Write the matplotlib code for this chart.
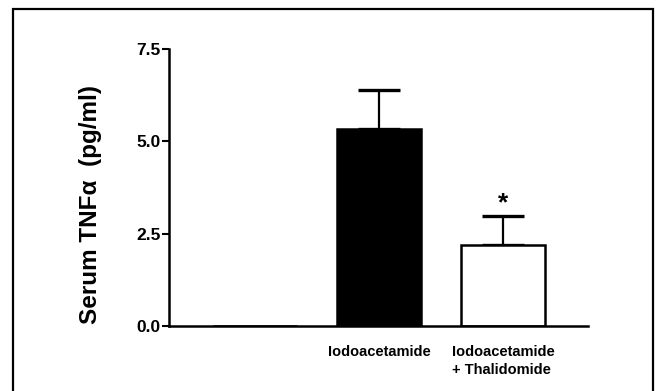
import matplotlib
matplotlib.use("Agg")
import matplotlib.pyplot as plt
from matplotlib.patches import Rectangle
import numpy as np

plt.rcParams['font.family'] = ['Liberation Sans', 'DejaVu Sans']
plt.rcParams['font.weight'] = 'bold'

# data
groups = ["", "Iodoacetamide", "Iodoacetamide\n+ Thalidomide"]
tnf_mean = [0.0, 5.33, 2.19]
tnf_sem = [0.0, 1.06, 0.79]
bar_colors = ["white", "black", "white"]
signif = ["", "", "*"]
yticks = [0.0, 2.5, 5.0, 7.5]

fig = plt.figure(figsize=(6.63, 3.91), dpi=100)
ax = fig.add_axes([0.2549, 0.1662, 0.632, 0.7085])

x = np.arange(len(groups))
ax.bar(x, tnf_mean, width=0.68, color=bar_colors, edgecolor="black", linewidth=1.8, zorder=2)

# upward-only error bars
for i in range(len(groups)):
    if tnf_sem[i] > 0:
        ax.errorbar(x[i], tnf_mean[i], yerr=[[0], [tnf_sem[i]]], fmt="none",
                    ecolor="black", elinewidth=1.6, capsize=15, capthick=2.4, zorder=1)
    if signif[i]:
        ax.text(x[i], tnf_mean[i] + tnf_sem[i] + 0.02, signif[i], ha="center", va="bottom",
                fontsize=19, fontweight="bold")

ax.set_xlim(-0.694, 2.685)
ax.set_ylim(0, 7.5)
ax.set_yticks(yticks)
ax.set_yticklabels([f"{v:.1f}" for v in yticks], fontsize=12.5, fontweight="bold")
ax.set_xticks(x)
ax.set_xticklabels(groups, fontsize=10.5, fontweight="bold", multialignment="left",
                   linespacing=1.35)
ax.tick_params(axis="x", length=0, pad=14)
ax.tick_params(axis="y", length=5, width=1.5, pad=1)

for s in ["top", "right"]:
    ax.spines[s].set_visible(False)
for s in ["left", "bottom"]:
    ax.spines[s].set_linewidth(1.8)

ax.set_ylabel("Serum TNFα  (pg/ml)", fontsize=17.5, fontweight="bold")
ax.yaxis.set_label_coords(-0.16, 0.44)

# frame around the whole figure (open at the bottom)
fig.patches.append(Rectangle((13 / 663, -0.05), (653 - 13) / 663, 1.05 - 9 / 391,
                             transform=fig.transFigure, fill=False,
                             edgecolor="black", linewidth=1.6))

fig.savefig("out.png", dpi=100)
